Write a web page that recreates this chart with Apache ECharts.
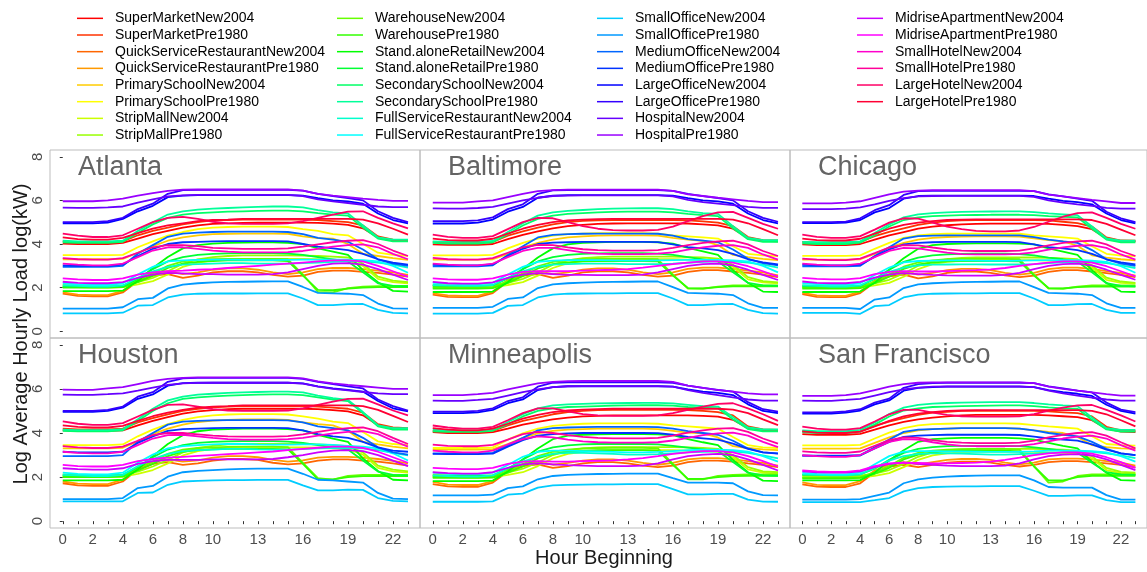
<!DOCTYPE html>
<html><head><meta charset="utf-8">
<script src="https://cdn.jsdelivr.net/npm/echarts@6/dist/echarts.min.js"></script>
<style>html,body{margin:0;padding:0;background:#fff}#c{width:1147px;height:572px}</style>
</head><body><div id="c"></div>
<script>
const hours = [0,1,2,3,4,5,6,7,8,9,10,11,12,13,14,15,16,17,18,19,20,21,22,23];
const xTickLabels = [0,2,4,6,8,10,13,16,19,22];
const yTickLabels = [0,2,4,6,8];
const cities = ['Atlanta','Baltimore','Chicago','Houston','Minneapolis','San Francisco'];
const seriesNames = ['SuperMarketNew2004','SuperMarketPre1980','QuickServiceRestaurantNew2004','QuickServiceRestaurantPre1980','PrimarySchoolNew2004','PrimarySchoolPre1980','StripMallNew2004','StripMallPre1980','WarehouseNew2004','WarehousePre1980','Stand.aloneRetailNew2004','Stand.aloneRetailPre1980','SecondarySchoolNew2004','SecondarySchoolPre1980','FullServiceRestaurantNew2004','FullServiceRestaurantPre1980','SmallOfficeNew2004','SmallOfficePre1980','MediumOfficeNew2004','MediumOfficePre1980','LargeOfficeNew2004','LargeOfficePre1980','HospitalNew2004','HospitalPre1980','MidriseApartmentNew2004','MidriseApartmentPre1980','SmallHotelNew2004','SmallHotelPre1980','LargeHotelNew2004','LargeHotelPre1980'];
const colors = ['#FF0000','#FF3300','#FF6600','#FF9900','#FFCC00','#FFFF00','#CCFF00','#99FF00','#66FF00','#33FF00','#00FF00','#00FF33','#00FF66','#00FF99','#00FFCC','#00FFFF','#00CCFF','#0099FF','#0066FF','#0033FF','#0000FF','#3300FF','#6600FF','#9900FF','#CC00FF','#FF00FF','#FF00CC','#FF0099','#FF0066','#FF0033'];

const atlanta = [
[4.02,4.0,4.0,4.0,4.05,4.25,4.45,4.6,4.75,4.85,4.92,4.95,4.97,4.98,4.98,4.98,4.98,4.97,4.93,4.88,4.72,4.3,4.17,4.15],
[4.12,4.08,4.08,4.08,4.12,4.4,4.6,4.75,4.9,5.0,5.08,5.1,5.12,5.12,5.12,5.12,5.12,5.1,5.05,5.0,4.85,4.35,4.2,4.18],
[1.72,1.62,1.6,1.6,1.78,2.3,2.55,2.62,2.45,2.55,2.7,2.75,2.75,2.7,2.58,2.5,2.55,2.72,2.78,2.78,2.72,2.68,2.6,2.5],
[1.78,1.68,1.66,1.66,1.85,2.38,2.68,2.75,2.62,2.7,2.82,2.88,2.88,2.82,2.7,2.62,2.7,2.85,2.9,2.9,2.85,2.78,2.7,2.58],
[3.3,3.3,3.3,3.3,3.32,3.6,3.9,4.15,4.3,4.4,4.45,4.47,4.48,4.48,4.48,4.47,4.35,4.27,4.25,4.0,3.55,3.45,3.35,3.27],
[3.49,3.49,3.49,3.49,3.5,3.85,4.12,4.38,4.55,4.68,4.75,4.78,4.8,4.8,4.8,4.78,4.68,4.6,4.45,4.4,4.0,3.6,3.5,3.46],
[2.05,2.02,2.0,2.0,2.02,2.15,2.3,2.6,2.95,3.15,3.25,3.3,3.32,3.32,3.32,3.32,3.32,3.3,3.28,3.25,3.0,2.4,2.25,2.2],
[2.12,2.1,2.08,2.08,2.1,2.25,2.45,2.75,3.1,3.3,3.4,3.45,3.48,3.48,3.48,3.48,3.47,3.45,3.42,3.38,3.1,2.5,2.32,2.25],
[2.02,2.02,2.02,2.02,2.04,2.35,2.65,3.0,3.2,3.28,3.3,3.32,3.32,3.32,3.32,3.3,2.6,1.8,1.78,1.98,2.05,2.07,2.08,2.08],
[2.0,2.0,2.0,2.0,2.02,2.25,2.55,2.9,3.1,3.18,3.22,3.25,3.25,3.25,3.25,3.22,2.55,1.9,1.88,1.95,2.0,2.02,2.02,2.02],
[1.84,1.84,1.84,1.84,1.86,2.3,2.9,3.4,3.8,3.95,4.02,4.05,4.06,4.07,4.07,4.05,4.0,3.8,3.65,3.5,2.8,2.25,1.85,1.82],
[2.05,2.05,2.05,2.05,2.07,2.4,2.85,3.2,3.4,3.5,3.55,3.57,3.58,3.58,3.58,3.56,3.5,3.4,3.3,3.2,2.7,2.2,2.08,2.06],
[4.08,4.05,4.05,4.05,4.1,4.5,4.9,5.2,5.35,5.42,5.45,5.48,5.5,5.52,5.53,5.53,5.5,5.42,5.35,5.3,4.75,4.25,4.12,4.12],
[4.15,4.12,4.12,4.12,4.15,4.6,5.0,5.35,5.5,5.58,5.62,5.65,5.68,5.7,5.72,5.72,5.68,5.55,5.45,5.4,4.85,4.3,4.2,4.2],
[2.1,2.08,2.05,2.05,2.1,2.45,2.75,2.95,3.05,3.08,3.1,3.12,3.12,3.1,3.1,3.1,3.12,3.15,3.18,3.2,3.2,3.15,3.05,2.92],
[2.2,2.15,2.12,2.12,2.2,2.6,2.95,3.2,3.25,3.27,3.28,3.28,3.27,3.26,3.26,3.27,3.28,3.28,3.28,3.28,3.26,3.2,3.0,2.68],
[0.82,0.82,0.82,0.82,0.85,1.17,1.2,1.55,1.68,1.72,1.73,1.73,1.73,1.74,1.74,1.74,1.5,1.2,1.2,1.24,1.25,0.98,0.84,0.82],
[1.04,1.04,1.04,1.04,1.1,1.47,1.53,1.96,2.14,2.2,2.24,2.26,2.27,2.28,2.29,2.29,2.03,1.76,1.74,1.72,1.66,1.27,1.05,1.04],
[2.95,2.95,2.95,2.95,3.0,3.55,3.95,4.33,4.48,4.52,4.55,4.57,4.57,4.57,4.57,4.55,4.45,4.28,4.2,4.1,3.75,3.3,3.1,3.0],
[3.02,3.0,3.0,3.0,3.05,3.45,3.78,4.0,4.08,4.1,4.12,4.13,4.13,4.13,4.13,4.12,4.0,3.88,3.8,3.72,3.55,3.3,3.15,3.05],
[4.95,4.95,4.95,4.98,5.15,5.5,5.75,6.15,6.22,6.24,6.24,6.24,6.24,6.24,6.24,6.24,6.22,6.1,6.0,5.95,5.85,5.4,5.1,4.95],
[5.0,5.0,5.0,5.05,5.2,5.6,5.85,6.3,6.47,6.48,6.48,6.48,6.48,6.48,6.48,6.48,6.45,6.3,6.2,6.1,6.0,5.5,5.2,5.0],
[5.67,5.66,5.66,5.68,5.72,5.9,6.05,6.18,6.23,6.25,6.25,6.25,6.25,6.25,6.25,6.25,6.2,6.05,5.95,5.88,5.8,5.72,5.69,5.69],
[5.96,5.96,5.96,6.0,6.08,6.22,6.33,6.44,6.49,6.5,6.5,6.5,6.5,6.5,6.5,6.5,6.45,6.3,6.22,6.15,6.08,6.02,5.98,5.98],
[2.27,2.22,2.2,2.2,2.25,2.45,2.6,2.68,2.65,2.62,2.62,2.6,2.6,2.6,2.62,2.7,2.85,3.0,3.1,3.12,3.05,2.85,2.6,2.35],
[2.42,2.38,2.35,2.35,2.42,2.6,2.7,2.75,2.78,2.82,2.85,2.9,2.95,3.0,3.05,3.1,3.15,3.2,3.25,3.25,3.2,3.0,2.75,2.5],
[3.1,3.05,3.02,3.02,3.1,3.4,3.7,3.85,3.85,3.78,3.7,3.65,3.62,3.62,3.62,3.63,3.68,3.78,3.88,3.95,3.98,3.85,3.55,3.3],
[3.35,3.3,3.28,3.28,3.35,3.6,3.85,3.95,3.95,3.9,3.82,3.8,3.78,3.78,3.78,3.8,3.88,3.98,4.08,4.15,4.18,4.0,3.7,3.45],
[4.48,4.38,4.32,4.32,4.4,4.7,5.0,5.2,5.24,5.15,5.02,4.95,4.92,4.92,4.92,4.95,5.05,5.2,5.35,5.48,5.5,5.2,4.95,4.72],
[4.3,4.22,4.2,4.2,4.28,4.5,4.7,4.85,4.95,5.05,5.1,5.12,5.15,5.15,5.15,5.15,5.15,5.15,5.15,5.15,5.12,4.95,4.7,4.43]
];
const baltimore = [
[3.98,3.96,3.96,3.96,4.0,4.22,4.42,4.58,4.72,4.82,4.88,4.92,4.94,4.95,4.95,4.95,4.95,4.94,4.9,4.85,4.7,4.28,4.15,4.12],
[4.1,4.06,4.06,4.06,4.1,4.38,4.58,4.75,4.9,5.0,5.06,5.08,5.1,5.1,5.1,5.1,5.1,5.08,5.04,4.98,4.82,4.32,4.18,4.16],
[1.68,1.58,1.56,1.56,1.75,2.28,2.55,2.62,2.45,2.55,2.7,2.75,2.75,2.7,2.58,2.5,2.55,2.72,2.8,2.8,2.74,2.68,2.6,2.48],
[1.74,1.64,1.62,1.62,1.82,2.35,2.66,2.74,2.62,2.7,2.82,2.88,2.88,2.82,2.7,2.62,2.7,2.86,2.92,2.92,2.86,2.78,2.7,2.56],
[3.28,3.28,3.28,3.28,3.3,3.55,3.85,4.05,4.2,4.3,4.35,4.38,4.4,4.4,4.4,4.38,4.28,4.2,4.15,3.95,3.5,3.4,3.32,3.26],
[3.48,3.48,3.48,3.48,3.5,3.8,4.05,4.25,4.38,4.45,4.48,4.5,4.5,4.5,4.5,4.48,4.4,4.35,4.3,4.25,3.9,3.55,3.48,3.45],
[2.05,2.02,2.0,2.0,2.02,2.12,2.25,2.55,2.9,3.12,3.22,3.28,3.3,3.3,3.3,3.3,3.3,3.28,3.26,3.22,2.95,2.38,2.24,2.2],
[2.12,2.1,2.08,2.08,2.1,2.22,2.4,2.7,3.05,3.25,3.35,3.4,3.42,3.42,3.42,3.42,3.42,3.4,3.38,3.33,3.05,2.48,2.3,2.24],
[2.0,2.0,2.0,2.0,2.02,2.3,2.62,2.98,3.18,3.26,3.3,3.32,3.32,3.32,3.32,3.3,2.6,1.95,1.95,2.05,2.1,2.1,2.1,2.1],
[1.96,1.96,1.96,1.96,1.98,2.22,2.52,2.88,3.08,3.16,3.2,3.22,3.22,3.22,3.22,3.2,2.55,1.98,1.96,2.02,2.06,2.06,2.06,2.06],
[1.8,1.8,1.8,1.8,1.82,2.25,2.85,3.38,3.8,3.98,4.05,4.08,4.1,4.1,4.1,4.08,4.02,3.82,3.66,3.5,2.8,2.22,1.82,1.8],
[2.08,2.08,2.08,2.08,2.1,2.42,2.85,3.2,3.4,3.5,3.55,3.57,3.58,3.58,3.58,3.56,3.5,3.4,3.3,3.2,2.7,2.22,2.1,2.08],
[4.05,4.02,4.02,4.02,4.08,4.45,4.85,5.15,5.3,5.38,5.42,5.45,5.47,5.48,5.48,5.48,5.45,5.38,5.32,5.28,4.72,4.22,4.1,4.1],
[4.12,4.1,4.1,4.1,4.14,4.55,4.95,5.3,5.45,5.52,5.56,5.6,5.62,5.63,5.64,5.64,5.6,5.5,5.42,5.38,4.82,4.28,4.18,4.18],
[2.12,2.1,2.08,2.08,2.12,2.45,2.75,2.95,3.05,3.08,3.1,3.1,3.1,3.08,3.08,3.08,3.1,3.14,3.18,3.2,3.2,3.15,3.05,2.92],
[2.22,2.18,2.15,2.15,2.22,2.6,2.95,3.18,3.24,3.26,3.26,3.26,3.25,3.24,3.24,3.25,3.26,3.27,3.27,3.27,3.25,3.2,3.0,2.7],
[0.81,0.81,0.81,0.81,0.84,1.16,1.2,1.55,1.68,1.72,1.73,1.74,1.74,1.75,1.75,1.75,1.5,1.2,1.2,1.24,1.25,0.98,0.83,0.81],
[1.07,1.07,1.07,1.07,1.12,1.48,1.55,1.98,2.15,2.2,2.23,2.25,2.26,2.27,2.28,2.28,2.02,1.76,1.74,1.72,1.66,1.28,1.07,1.07],
[2.98,2.98,2.98,2.98,3.02,3.5,3.9,4.3,4.42,4.45,4.47,4.48,4.48,4.48,4.48,4.47,4.38,4.22,4.15,4.08,3.75,3.32,3.12,3.02],
[3.05,3.02,3.02,3.02,3.06,3.45,3.78,4.0,4.06,4.08,4.1,4.1,4.1,4.1,4.1,4.09,3.98,3.86,3.8,3.72,3.55,3.3,3.16,3.06],
[4.94,4.94,4.94,4.98,5.12,5.48,5.7,6.12,6.22,6.24,6.24,6.24,6.24,6.24,6.24,6.24,6.22,6.1,6.0,5.95,5.85,5.4,5.1,4.95],
[5.05,5.05,5.05,5.08,5.22,5.6,5.82,6.3,6.46,6.47,6.47,6.47,6.47,6.47,6.47,6.47,6.44,6.3,6.2,6.1,6.0,5.5,5.2,5.02],
[5.63,5.62,5.62,5.65,5.7,5.85,6.0,6.12,6.2,6.22,6.23,6.23,6.23,6.23,6.23,6.23,6.18,6.02,5.92,5.85,5.78,5.7,5.66,5.66],
[5.9,5.9,5.9,5.95,6.0,6.15,6.3,6.42,6.47,6.49,6.49,6.49,6.49,6.49,6.49,6.49,6.44,6.28,6.2,6.12,6.05,5.98,5.92,5.92],
[2.26,2.2,2.18,2.18,2.24,2.45,2.6,2.66,2.62,2.58,2.58,2.57,2.57,2.57,2.6,2.7,2.85,3.0,3.08,3.1,3.02,2.82,2.58,2.35],
[2.42,2.38,2.36,2.36,2.42,2.6,2.72,2.76,2.75,2.76,2.78,2.8,2.82,2.85,2.92,3.0,3.08,3.15,3.2,3.2,3.15,2.98,2.75,2.5],
[3.1,3.05,3.02,3.02,3.1,3.4,3.68,3.82,3.82,3.72,3.62,3.56,3.54,3.54,3.54,3.56,3.62,3.74,3.85,3.92,3.95,3.82,3.52,3.28],
[3.36,3.3,3.28,3.28,3.35,3.6,3.85,3.96,3.95,3.85,3.76,3.72,3.7,3.7,3.7,3.72,3.82,3.95,4.05,4.12,4.15,3.98,3.68,3.45],
[4.43,4.33,4.28,4.28,4.36,4.68,5.0,5.2,5.18,5.0,4.82,4.7,4.64,4.62,4.62,4.65,4.8,5.05,5.28,5.45,5.47,5.2,4.92,4.7],
[4.25,4.18,4.16,4.16,4.24,4.48,4.7,4.88,5.0,5.08,5.12,5.14,5.15,5.15,5.15,5.15,5.15,5.15,5.15,5.15,5.12,4.95,4.68,4.4]
];
const chicago = [
[3.98,3.95,3.95,3.95,4.0,4.2,4.4,4.55,4.7,4.8,4.86,4.9,4.92,4.93,4.93,4.93,4.93,4.92,4.88,4.82,4.68,4.26,4.14,4.12],
[4.1,4.05,4.05,4.05,4.1,4.36,4.56,4.72,4.88,4.98,5.05,5.08,5.1,5.1,5.1,5.1,5.1,5.08,5.02,4.96,4.8,4.3,4.16,4.15],
[1.7,1.58,1.56,1.56,1.75,2.25,2.52,2.6,2.42,2.52,2.68,2.74,2.74,2.68,2.56,2.48,2.55,2.72,2.8,2.8,2.74,2.66,2.58,2.48],
[1.76,1.64,1.62,1.62,1.82,2.32,2.62,2.72,2.6,2.68,2.8,2.86,2.86,2.8,2.68,2.6,2.68,2.85,2.92,2.92,2.86,2.76,2.68,2.55],
[3.28,3.28,3.28,3.28,3.3,3.55,3.85,4.05,4.2,4.28,4.32,4.34,4.35,4.35,4.35,4.34,4.26,4.18,4.12,3.92,3.48,3.38,3.3,3.25],
[3.46,3.46,3.46,3.46,3.48,3.78,4.05,4.28,4.4,4.45,4.47,4.48,4.48,4.48,4.48,4.47,4.4,4.35,4.3,4.25,3.9,3.55,3.47,3.44],
[2.02,2.0,1.98,1.98,2.0,2.1,2.22,2.5,2.85,3.08,3.18,3.24,3.26,3.26,3.26,3.26,3.26,3.24,3.22,3.18,2.92,2.36,2.22,2.18],
[2.1,2.08,2.06,2.06,2.08,2.2,2.36,2.65,3.0,3.2,3.3,3.36,3.38,3.38,3.38,3.38,3.38,3.36,3.34,3.3,3.02,2.46,2.28,2.22],
[2.0,2.0,2.0,2.0,2.02,2.28,2.6,2.96,3.16,3.25,3.3,3.32,3.32,3.32,3.32,3.3,2.6,1.95,1.95,2.05,2.1,2.1,2.1,2.1],
[1.96,1.96,1.96,1.96,1.98,2.2,2.5,2.86,3.06,3.15,3.2,3.22,3.22,3.22,3.22,3.2,2.55,1.98,1.96,2.02,2.05,2.05,2.05,2.05],
[1.8,1.8,1.8,1.8,1.82,2.22,2.82,3.35,3.78,3.95,4.0,4.02,4.03,4.03,4.03,4.02,3.98,3.8,3.65,3.5,2.8,2.22,1.82,1.8],
[2.06,2.06,2.06,2.06,2.08,2.4,2.82,3.18,3.38,3.48,3.52,3.55,3.56,3.56,3.56,3.54,3.48,3.38,3.3,3.2,2.7,2.2,2.08,2.06],
[4.03,4.0,4.0,4.0,4.06,4.4,4.8,5.1,5.22,5.28,5.3,5.32,5.33,5.34,5.34,5.34,5.32,5.28,5.25,5.22,4.7,4.2,4.08,4.08],
[4.1,4.08,4.08,4.08,4.12,4.5,4.9,5.22,5.36,5.42,5.45,5.47,5.48,5.49,5.5,5.5,5.46,5.4,5.36,5.32,4.8,4.26,4.15,4.15],
[2.1,2.08,2.05,2.05,2.1,2.42,2.72,2.92,3.02,3.05,3.06,3.07,3.07,3.06,3.06,3.06,3.08,3.12,3.16,3.18,3.18,3.12,3.02,2.9],
[2.2,2.16,2.13,2.13,2.2,2.58,2.92,3.16,3.22,3.24,3.25,3.25,3.24,3.23,3.23,3.24,3.25,3.26,3.26,3.26,3.24,3.18,2.98,2.68],
[0.84,0.84,0.84,0.84,0.8,1.15,1.2,1.55,1.68,1.72,1.73,1.74,1.74,1.75,1.75,1.75,1.5,1.2,1.2,1.24,1.25,0.98,0.84,0.84],
[1.07,1.07,1.07,1.07,1.02,1.45,1.55,1.98,2.15,2.2,2.23,2.25,2.26,2.27,2.28,2.28,2.02,1.76,1.74,1.72,1.66,1.28,1.07,1.07],
[2.98,2.98,2.98,2.98,3.0,3.45,3.85,4.25,4.36,4.38,4.4,4.4,4.4,4.4,4.4,4.4,4.32,4.2,4.12,4.05,3.72,3.3,3.1,3.0],
[3.05,3.02,3.02,3.02,3.04,3.42,3.75,3.98,4.05,4.08,4.1,4.1,4.1,4.1,4.1,4.09,3.98,3.86,3.8,3.72,3.55,3.3,3.16,3.06],
[4.96,4.96,4.96,4.98,5.1,5.45,5.65,6.08,6.2,6.22,6.22,6.22,6.22,6.22,6.22,6.22,6.2,6.08,5.98,5.92,5.82,5.4,5.1,4.95],
[5.0,5.0,5.0,5.03,5.18,5.55,5.78,6.25,6.42,6.44,6.44,6.44,6.44,6.44,6.44,6.44,6.42,6.28,6.18,6.08,5.98,5.48,5.18,5.0],
[5.6,5.6,5.6,5.62,5.68,5.82,5.98,6.1,6.18,6.2,6.21,6.21,6.21,6.21,6.21,6.21,6.16,6.0,5.9,5.82,5.75,5.66,5.62,5.62],
[5.86,5.86,5.86,5.9,5.96,6.12,6.28,6.4,6.45,6.47,6.47,6.47,6.47,6.47,6.47,6.47,6.42,6.26,6.18,6.1,6.02,5.95,5.88,5.88],
[2.28,2.22,2.2,2.2,2.26,2.46,2.6,2.66,2.62,2.58,2.56,2.55,2.55,2.55,2.58,2.68,2.85,3.0,3.08,3.1,3.02,2.82,2.58,2.36],
[2.45,2.4,2.38,2.38,2.44,2.62,2.72,2.76,2.74,2.74,2.76,2.78,2.8,2.84,2.9,3.0,3.08,3.15,3.2,3.2,3.15,2.98,2.75,2.52],
[3.1,3.05,3.02,3.02,3.1,3.4,3.68,3.82,3.8,3.7,3.6,3.54,3.52,3.52,3.52,3.55,3.62,3.74,3.85,3.92,3.95,3.82,3.52,3.28],
[3.33,3.28,3.26,3.26,3.33,3.58,3.84,3.95,3.94,3.84,3.75,3.7,3.68,3.68,3.68,3.7,3.8,3.94,4.05,4.12,4.15,3.98,3.68,3.45],
[4.43,4.33,4.28,4.28,4.36,4.66,4.98,5.18,5.16,4.98,4.8,4.68,4.6,4.58,4.58,4.62,4.78,5.02,5.25,5.42,5.45,5.2,4.92,4.7],
[4.25,4.18,4.16,4.16,4.24,4.48,4.7,4.88,4.98,5.05,5.1,5.12,5.13,5.13,5.13,5.13,5.13,5.13,5.13,5.13,5.1,4.92,4.66,4.4]
];
const houston = [
[4.12,4.1,4.1,4.1,4.12,4.35,4.55,4.72,4.88,4.98,5.04,5.08,5.1,5.1,5.1,5.1,5.1,5.08,5.04,4.98,4.8,4.35,4.2,4.18],
[4.2,4.16,4.16,4.16,4.2,4.48,4.68,4.85,5.0,5.1,5.16,5.2,5.22,5.22,5.22,5.22,5.22,5.2,5.15,5.1,4.92,4.4,4.25,4.22],
[1.72,1.62,1.6,1.6,1.8,2.35,2.6,2.68,2.55,2.62,2.75,2.82,2.82,2.78,2.65,2.58,2.62,2.75,2.8,2.8,2.75,2.7,2.62,2.52],
[1.8,1.7,1.68,1.68,1.88,2.42,2.7,2.8,2.7,2.76,2.88,2.95,2.95,2.9,2.78,2.7,2.76,2.88,2.92,2.92,2.88,2.82,2.74,2.62],
[3.3,3.3,3.3,3.3,3.33,3.62,3.95,4.2,4.38,4.5,4.56,4.6,4.62,4.62,4.62,4.6,4.48,4.4,4.35,4.1,3.6,3.48,3.38,3.3],
[3.45,3.45,3.45,3.45,3.48,3.85,4.15,4.4,4.6,4.72,4.8,4.84,4.86,4.86,4.86,4.84,4.75,4.65,4.52,4.45,4.05,3.62,3.5,3.45],
[2.05,2.02,2.0,2.0,2.02,2.15,2.32,2.62,2.98,3.18,3.28,3.33,3.35,3.35,3.35,3.35,3.35,3.33,3.3,3.27,3.02,2.42,2.26,2.2],
[2.12,2.1,2.08,2.08,2.1,2.25,2.48,2.78,3.12,3.32,3.42,3.48,3.5,3.5,3.5,3.5,3.5,3.48,3.45,3.4,3.12,2.52,2.34,2.26],
[2.04,2.04,2.04,2.04,2.06,2.4,2.7,3.05,3.25,3.32,3.35,3.37,3.38,3.38,3.38,3.36,2.65,1.95,1.88,2.05,2.1,2.1,2.1,2.1],
[2.0,2.0,2.0,2.0,2.02,2.3,2.6,2.95,3.15,3.22,3.26,3.28,3.28,3.28,3.28,3.26,2.6,1.9,1.9,2.0,2.04,2.05,2.05,2.05],
[1.85,1.85,1.85,1.85,1.88,2.35,2.95,3.5,3.9,4.08,4.15,4.18,4.2,4.2,4.2,4.18,4.12,3.92,3.75,3.6,2.85,2.28,1.88,1.85],
[2.08,2.08,2.08,2.08,2.1,2.45,2.9,3.25,3.45,3.55,3.6,3.62,3.63,3.63,3.63,3.61,3.55,3.45,3.35,3.25,2.75,2.25,2.1,2.08],
[4.1,4.08,4.08,4.08,4.12,4.55,5.0,5.35,5.55,5.62,5.66,5.7,5.72,5.74,5.75,5.75,5.72,5.62,5.52,5.45,4.9,4.3,4.15,4.15],
[4.15,4.13,4.13,4.13,4.17,4.62,5.1,5.48,5.65,5.74,5.78,5.82,5.84,5.86,5.88,5.88,5.84,5.7,5.58,5.5,4.95,4.35,4.22,4.22],
[2.1,2.08,2.05,2.05,2.1,2.5,2.82,3.05,3.18,3.22,3.25,3.28,3.28,3.26,3.25,3.25,3.27,3.3,3.32,3.32,3.3,3.22,3.1,2.98],
[2.2,2.15,2.12,2.12,2.2,2.65,3.02,3.3,3.4,3.45,3.48,3.5,3.5,3.48,3.47,3.47,3.48,3.48,3.46,3.42,3.38,3.3,3.08,2.75],
[0.9,0.9,0.9,0.9,0.9,1.28,1.3,1.65,1.8,1.83,1.85,1.86,1.86,1.87,1.87,1.87,1.62,1.4,1.4,1.43,1.42,1.05,0.92,0.9],
[1.0,1.0,1.0,1.0,1.05,1.5,1.6,2.02,2.22,2.28,2.32,2.35,2.37,2.38,2.38,2.38,2.15,1.88,1.85,1.8,1.75,1.28,1.02,1.0],
[2.95,2.95,2.95,2.95,3.0,3.6,4.0,4.38,4.52,4.55,4.57,4.58,4.58,4.58,4.58,4.57,4.48,4.3,4.22,4.12,3.78,3.35,3.12,3.02],
[3.15,3.12,3.12,3.12,3.15,3.55,3.85,4.1,4.18,4.2,4.22,4.23,4.23,4.23,4.23,4.22,4.12,3.95,3.85,3.78,3.6,3.35,3.2,3.15],
[4.96,4.96,4.96,5.0,5.15,5.55,5.75,6.15,6.26,6.28,6.28,6.28,6.28,6.28,6.28,6.28,6.25,6.12,6.02,5.96,5.88,5.45,5.12,4.98],
[5.0,5.0,5.0,5.05,5.2,5.65,5.85,6.32,6.48,6.5,6.5,6.5,6.5,6.5,6.5,6.5,6.46,6.32,6.22,6.12,6.02,5.52,5.22,5.02],
[5.74,5.73,5.73,5.76,5.8,5.92,6.06,6.18,6.25,6.27,6.28,6.28,6.28,6.28,6.28,6.28,6.24,6.1,6.0,5.93,5.86,5.8,5.76,5.76],
[5.97,5.96,5.96,6.02,6.08,6.22,6.36,6.46,6.5,6.52,6.52,6.52,6.52,6.52,6.52,6.52,6.48,6.34,6.25,6.18,6.12,6.06,6.0,6.0],
[2.4,2.36,2.34,2.34,2.4,2.6,2.72,2.78,2.78,2.78,2.8,2.8,2.8,2.8,2.82,2.9,3.0,3.12,3.2,3.22,3.18,3.0,2.75,2.5],
[2.55,2.5,2.48,2.48,2.55,2.72,2.82,2.88,2.92,2.96,3.0,3.04,3.08,3.12,3.16,3.22,3.28,3.33,3.38,3.38,3.32,3.15,2.9,2.65],
[3.15,3.1,3.08,3.08,3.15,3.45,3.75,3.9,3.92,3.85,3.78,3.72,3.7,3.7,3.7,3.72,3.78,3.88,3.98,4.05,4.08,3.95,3.65,3.38],
[3.4,3.35,3.32,3.32,3.38,3.65,3.9,4.0,4.0,3.94,3.88,3.85,3.84,3.84,3.84,3.86,3.94,4.05,4.15,4.22,4.25,4.08,3.78,3.5],
[4.53,4.42,4.37,4.37,4.45,4.75,5.05,5.28,5.3,5.2,5.08,5.02,5.0,5.0,5.0,5.02,5.12,5.28,5.42,5.55,5.56,5.3,5.02,4.8],
[4.35,4.28,4.25,4.25,4.32,4.55,4.76,4.92,5.05,5.15,5.2,5.22,5.25,5.25,5.25,5.25,5.25,5.25,5.25,5.25,5.22,5.05,4.78,4.5]
];
const minneapolis = [
[4.04,4.0,4.0,4.0,4.04,4.2,4.38,4.5,4.62,4.7,4.75,4.78,4.8,4.8,4.8,4.8,4.8,4.8,4.78,4.74,4.6,4.22,4.12,4.1],
[4.1,4.06,4.06,4.06,4.1,4.35,4.55,4.7,4.85,4.95,5.0,5.04,5.05,5.05,5.05,5.05,5.05,5.04,5.0,4.95,4.8,4.3,4.16,4.14],
[1.68,1.58,1.56,1.56,1.75,2.25,2.5,2.58,2.42,2.5,2.62,2.68,2.68,2.62,2.52,2.45,2.52,2.68,2.75,2.75,2.7,2.62,2.55,2.45],
[1.78,1.66,1.64,1.64,1.82,2.32,2.6,2.7,2.56,2.64,2.75,2.8,2.8,2.75,2.64,2.56,2.64,2.8,2.86,2.86,2.8,2.72,2.64,2.52],
[3.25,3.25,3.25,3.25,3.27,3.5,3.78,3.98,4.1,4.15,4.18,4.2,4.2,4.2,4.2,4.18,4.1,4.02,3.98,3.8,3.4,3.32,3.26,3.22],
[3.32,3.32,3.32,3.32,3.35,3.7,3.98,4.2,4.32,4.38,4.42,4.44,4.44,4.44,4.44,4.42,4.35,4.3,4.25,4.2,3.82,3.45,3.35,3.32],
[2.02,2.0,1.98,1.98,2.0,2.1,2.22,2.5,2.85,3.05,3.15,3.2,3.22,3.22,3.22,3.22,3.22,3.2,3.18,3.15,2.9,2.35,2.2,2.16],
[2.1,2.08,2.06,2.06,2.08,2.2,2.38,2.66,3.0,3.2,3.3,3.35,3.36,3.36,3.36,3.36,3.36,3.35,3.32,3.28,3.0,2.45,2.26,2.22],
[2.0,2.0,2.0,2.0,2.02,2.28,2.58,2.95,3.15,3.25,3.3,3.32,3.33,3.33,3.33,3.3,2.6,1.9,1.9,2.05,2.1,2.12,2.12,2.12],
[1.96,1.96,1.96,1.96,1.98,2.2,2.48,2.85,3.05,3.15,3.2,3.22,3.22,3.22,3.22,3.2,2.55,1.92,1.92,2.0,2.05,2.06,2.06,2.06],
[1.82,1.82,1.82,1.82,1.84,2.25,2.8,3.3,3.72,3.88,3.92,3.94,3.95,3.95,3.95,3.94,3.9,3.72,3.58,3.45,2.78,2.22,1.84,1.82],
[2.06,2.06,2.06,2.06,2.08,2.38,2.8,3.15,3.35,3.44,3.48,3.5,3.5,3.5,3.5,3.48,3.42,3.34,3.26,3.18,2.68,2.2,2.08,2.06],
[4.08,4.05,4.05,4.05,4.1,4.4,4.75,5.0,5.12,5.18,5.2,5.22,5.24,5.25,5.26,5.26,5.24,5.18,5.15,5.12,4.62,4.18,4.08,4.08],
[4.15,4.12,4.12,4.12,4.16,4.5,4.85,5.12,5.25,5.3,5.32,5.34,5.35,5.36,5.37,5.37,5.34,5.28,5.22,5.2,4.72,4.25,4.16,4.16],
[2.08,2.05,2.02,2.02,2.08,2.4,2.7,2.92,3.05,3.1,3.1,3.08,3.05,3.02,3.02,3.04,3.08,3.12,3.15,3.17,3.17,3.1,2.98,2.85],
[2.2,2.15,2.12,2.12,2.2,2.55,2.92,3.15,3.2,3.2,3.18,3.16,3.14,3.12,3.12,3.14,3.18,3.22,3.24,3.24,3.22,3.15,2.95,2.7],
[0.88,0.88,0.88,0.88,0.9,1.2,1.25,1.52,1.62,1.65,1.66,1.67,1.67,1.68,1.68,1.68,1.45,1.22,1.22,1.24,1.24,0.98,0.89,0.88],
[1.17,1.17,1.17,1.17,1.2,1.5,1.58,1.9,2.05,2.1,2.12,2.14,2.15,2.16,2.16,2.16,1.95,1.75,1.75,1.75,1.72,1.35,1.18,1.17],
[3.08,3.08,3.08,3.08,3.1,3.45,3.78,4.12,4.22,4.25,4.27,4.28,4.28,4.28,4.28,4.27,4.2,4.08,4.0,3.92,3.65,3.3,3.12,3.08],
[3.05,3.04,3.04,3.04,3.06,3.38,3.68,3.88,3.95,3.98,4.0,4.0,4.0,4.0,4.0,3.99,3.92,3.82,3.76,3.7,3.52,3.28,3.12,3.06],
[4.9,4.9,4.9,4.94,5.05,5.35,5.52,5.95,6.08,6.12,6.12,6.12,6.12,6.12,6.12,6.12,6.1,5.98,5.88,5.82,5.72,5.3,5.0,4.9],
[4.97,4.97,4.97,5.0,5.12,5.45,5.62,6.1,6.28,6.3,6.3,6.3,6.3,6.3,6.3,6.3,6.28,6.15,6.05,5.96,5.88,5.4,5.08,4.97],
[5.47,5.46,5.46,5.5,5.55,5.7,5.85,5.98,6.08,6.12,6.13,6.13,6.13,6.13,6.13,6.13,6.1,5.95,5.82,5.72,5.62,5.52,5.47,5.47],
[5.72,5.72,5.72,5.76,5.82,5.98,6.12,6.25,6.32,6.35,6.36,6.36,6.36,6.36,6.36,6.36,6.32,6.15,6.05,5.95,5.88,5.8,5.75,5.75],
[2.22,2.18,2.16,2.16,2.22,2.42,2.58,2.62,2.58,2.54,2.52,2.5,2.5,2.5,2.52,2.62,2.8,2.95,3.02,3.05,3.0,2.8,2.55,2.3],
[2.42,2.38,2.36,2.36,2.42,2.6,2.7,2.72,2.7,2.7,2.72,2.74,2.76,2.8,2.86,2.95,3.05,3.12,3.18,3.18,3.12,2.95,2.72,2.48],
[3.2,3.15,3.12,3.12,3.2,3.48,3.72,3.85,3.8,3.7,3.62,3.58,3.56,3.56,3.56,3.58,3.66,3.78,3.9,3.98,4.02,3.88,3.6,3.36],
[3.47,3.42,3.4,3.4,3.46,3.7,3.95,4.05,4.0,3.9,3.82,3.78,3.76,3.76,3.76,3.78,3.88,4.02,4.12,4.2,4.22,4.05,3.75,3.52],
[4.34,4.25,4.2,4.2,4.28,4.58,4.9,5.12,5.12,4.98,4.86,4.8,4.78,4.78,4.78,4.8,4.9,5.05,5.2,5.32,5.35,5.12,4.85,4.55],
[4.22,4.15,4.12,4.12,4.2,4.42,4.65,4.82,4.95,5.02,5.06,5.08,5.1,5.1,5.1,5.1,5.1,5.1,5.1,5.1,5.06,4.9,4.62,4.36]
];
const sanFrancisco = [
[3.95,3.92,3.92,3.92,3.96,4.15,4.35,4.5,4.62,4.7,4.75,4.8,4.82,4.82,4.82,4.82,4.82,4.8,4.76,4.72,4.58,4.2,4.06,4.04],
[4.07,4.03,4.03,4.03,4.07,4.32,4.52,4.68,4.82,4.92,4.96,5.0,5.0,5.0,5.0,5.0,5.0,4.98,4.94,4.9,4.75,4.28,4.12,4.1],
[1.67,1.57,1.55,1.55,1.72,2.22,2.48,2.56,2.45,2.55,2.66,2.7,2.7,2.66,2.55,2.48,2.55,2.68,2.72,2.72,2.68,2.62,2.55,2.44],
[1.76,1.65,1.63,1.63,1.82,2.3,2.58,2.68,2.58,2.68,2.78,2.82,2.82,2.78,2.66,2.58,2.66,2.8,2.84,2.84,2.8,2.72,2.65,2.52],
[3.29,3.29,3.29,3.29,3.3,3.55,3.8,4.0,4.12,4.18,4.2,4.22,4.22,4.22,4.22,4.2,4.12,4.05,4.0,3.82,3.45,3.36,3.3,3.28],
[3.44,3.44,3.44,3.44,3.46,3.75,4.02,4.22,4.35,4.4,4.42,4.44,4.44,4.44,4.44,4.42,4.36,4.3,4.25,4.2,3.85,3.5,3.45,3.43],
[2.0,1.98,1.96,1.96,1.98,2.06,2.18,2.45,2.78,2.98,3.08,3.12,3.14,3.14,3.14,3.14,3.14,3.12,3.1,3.06,2.85,2.32,2.18,2.14],
[2.08,2.06,2.04,2.04,2.06,2.16,2.32,2.6,2.92,3.12,3.22,3.26,3.28,3.28,3.28,3.28,3.28,3.26,3.24,3.2,2.95,2.42,2.24,2.2],
[1.98,1.98,1.98,1.98,2.0,2.22,2.5,2.88,3.1,3.2,3.25,3.27,3.28,3.28,3.28,3.25,2.5,1.75,1.8,2.05,2.12,2.12,2.12,2.12],
[1.94,1.94,1.94,1.94,1.96,2.15,2.42,2.8,3.02,3.12,3.17,3.2,3.2,3.2,3.2,3.17,2.48,1.85,1.85,2.0,2.06,2.06,2.06,2.06],
[1.85,1.85,1.85,1.85,1.86,2.2,2.75,3.22,3.6,3.72,3.76,3.78,3.78,3.78,3.78,3.76,3.7,3.55,3.42,3.3,2.7,2.2,1.86,1.84],
[2.1,2.1,2.1,2.1,2.12,2.38,2.78,3.1,3.28,3.36,3.4,3.42,3.42,3.42,3.42,3.4,3.35,3.28,3.2,3.12,2.65,2.22,2.12,2.1],
[4.04,4.0,4.0,4.0,4.06,4.38,4.75,5.02,5.12,5.18,5.2,5.22,5.23,5.24,5.25,5.25,5.22,5.16,5.12,5.1,4.6,4.16,4.06,4.06],
[4.12,4.08,4.08,4.08,4.14,4.48,4.86,5.15,5.28,5.33,5.36,5.38,5.39,5.4,5.4,5.4,5.36,5.3,5.25,5.22,4.7,4.22,4.14,4.14],
[2.12,2.1,2.08,2.08,2.12,2.42,2.75,2.95,3.05,3.08,3.08,3.06,3.04,3.02,3.02,3.04,3.06,3.1,3.12,3.14,3.14,3.08,2.98,2.86],
[2.19,2.15,2.12,2.12,2.2,2.58,2.95,3.15,3.18,3.18,3.17,3.16,3.15,3.14,3.14,3.15,3.17,3.2,3.2,3.2,3.18,3.12,2.95,2.7],
[0.86,0.86,0.86,0.86,0.86,0.95,1.05,1.35,1.5,1.55,1.57,1.58,1.58,1.59,1.59,1.59,1.38,1.15,1.15,1.17,1.17,0.95,0.86,0.86],
[0.98,0.98,0.98,0.98,1.0,1.15,1.3,1.72,1.9,1.98,2.02,2.05,2.07,2.08,2.08,2.08,1.85,1.55,1.52,1.52,1.52,1.18,0.98,0.98],
[2.97,2.97,2.97,2.97,3.0,3.35,3.7,4.05,4.15,4.18,4.2,4.22,4.22,4.22,4.22,4.2,4.12,4.0,3.92,3.85,3.6,3.28,3.08,3.0],
[2.97,2.96,2.96,2.96,2.98,3.3,3.6,3.82,3.88,3.9,3.92,3.92,3.92,3.92,3.92,3.91,3.84,3.75,3.7,3.65,3.48,3.25,3.08,3.0],
[4.88,4.88,4.88,4.92,5.02,5.3,5.48,5.92,6.05,6.08,6.1,6.1,6.1,6.1,6.1,6.1,6.08,5.95,5.85,5.78,5.68,5.28,5.0,4.88],
[4.94,4.94,4.94,4.98,5.08,5.38,5.56,6.05,6.22,6.26,6.28,6.28,6.28,6.28,6.28,6.28,6.26,6.12,6.02,5.92,5.84,5.38,5.06,4.95],
[5.47,5.46,5.46,5.5,5.55,5.7,5.85,5.98,6.06,6.1,6.11,6.11,6.11,6.11,6.11,6.11,6.08,5.92,5.8,5.7,5.6,5.52,5.47,5.47],
[5.68,5.68,5.68,5.72,5.8,5.95,6.1,6.22,6.28,6.3,6.3,6.3,6.3,6.3,6.3,6.3,6.26,6.1,6.0,5.92,5.84,5.76,5.7,5.7],
[2.26,2.22,2.2,2.2,2.26,2.45,2.6,2.66,2.6,2.55,2.52,2.5,2.5,2.5,2.52,2.62,2.8,2.95,3.02,3.04,2.98,2.8,2.55,2.32],
[2.3,2.26,2.24,2.24,2.3,2.5,2.62,2.66,2.64,2.62,2.62,2.64,2.66,2.7,2.78,2.88,3.0,3.08,3.12,3.12,3.06,2.9,2.68,2.42],
[2.99,2.95,2.92,2.92,3.0,3.3,3.6,3.72,3.7,3.58,3.48,3.42,3.4,3.4,3.4,3.42,3.5,3.62,3.75,3.84,3.88,3.75,3.45,3.2],
[3.17,3.12,3.1,3.1,3.16,3.42,3.68,3.8,3.78,3.68,3.6,3.56,3.54,3.54,3.54,3.56,3.65,3.8,3.92,4.0,4.04,3.88,3.58,3.3],
[4.29,4.2,4.15,4.15,4.22,4.52,4.85,5.05,5.05,4.92,4.82,4.76,4.74,4.74,4.74,4.76,4.86,5.02,5.15,5.25,5.27,5.05,4.8,4.52],
[4.07,4.02,4.0,4.0,4.06,4.3,4.55,4.75,4.88,4.95,5.0,5.02,5.04,5.04,5.04,5.04,5.04,5.04,5.04,5.04,5.0,4.85,4.58,4.3]
];
const cityData = [atlanta, baltimore, chicago, houston, minneapolis, sanFrancisco];

const FONT = '"Liberation Sans", Arial, sans-serif';
const panelLeft = [50, 420, 790];
const panelTop = [150, 338];
const panelHeight = [188, 190];
const panelWidth = 370;

const grids = [], xAxes = [], yAxes = [], series = [], graphics = [];
for (let p = 0; p < 6; p++) {
  const col = p % 3, row = Math.floor(p / 3);
  grids.push({left: panelLeft[col], top: panelTop[row], width: panelWidth, height: panelHeight[row],
    show: true, borderColor: '#BDBDBD', borderWidth: 1, backgroundColor: 'transparent', containLabel: false});
  xAxes.push({type: 'value', gridIndex: p, min: -0.85, max: 23.8,
    axisLine: {show: false}, splitLine: {show: false},
    axisTick: {show: row === 1, customValues: hours, length: 3, lineStyle: {color: '#333333', width: 1}},
    axisLabel: {show: row === 1, customValues: xTickLabels, margin: 4, fontSize: 15, color: '#4D4D4D', fontFamily: FONT}
  });
  yAxes.push({type: 'value', gridIndex: p, min: -0.31, max: 8.31,
    axisLine: {show: false}, splitLine: {show: false},
    axisTick: {show: col === 0, customValues: yTickLabels, length: 3, lineStyle: {color: '#333333', width: 1}},
    axisLabel: {show: col === 0, customValues: yTickLabels, rotate: 90, margin: 5, fontSize: 15, color: '#4D4D4D', fontFamily: FONT}
  });
  const data = cityData[p];
  for (let s = 0; s < seriesNames.length; s++) {
    series.push({type: 'line', name: seriesNames[s], xAxisIndex: p, yAxisIndex: p,
      data: hours.map((h, k) => [h, data[s][k]]),
      color: colors[s], symbol: 'none', showSymbol: false, silent: true,
      lineStyle: {width: 1.8, color: colors[s]}, z: 2 + s * 0.01});
  }
  graphics.push({type: 'text', x: panelLeft[col] + 28, y: panelTop[row] + 18,
    style: {text: cities[p], fontSize: 27, fontFamily: FONT, fill: '#646464',
      align: 'left', verticalAlign: 'middle', textAlign: 'left', textVerticalAlign: 'middle'}});
}
graphics.push({type: 'text', x: 21, y: 334, rotation: Math.PI / 2,
  style: {text: 'Log Average Hourly Load log(kW)', fontSize: 20, fontFamily: FONT, fill: '#1A1A1A',
    align: 'center', verticalAlign: 'middle', textAlign: 'center', textVerticalAlign: 'middle'}});
graphics.push({type: 'text', x: 604, y: 558,
  style: {text: 'Hour Beginning', fontSize: 20, fontFamily: FONT, fill: '#1A1A1A',
    align: 'center', verticalAlign: 'middle', textAlign: 'center', textVerticalAlign: 'middle'}});

const legendLefts = [77, 337, 597, 857];
const legends = legendLefts.map((lx, c) => ({
  show: true, orient: 'vertical', left: lx, top: 10, itemGap: 0, itemWidth: 26, itemHeight: 1.5,
  icon: 'rect', selectedMode: false, padding: 0,
  data: seriesNames.slice(c * 8, c * 8 + 8),
  textStyle: {fontSize: 14, fontFamily: FONT, color: '#000000', lineHeight: 16.67, padding: [0, 0, 0, 7]}
}));

const chart = echarts.init(document.getElementById('c'), null, {renderer: 'canvas'});
chart.setOption({
  animation: false,
  textStyle: {fontFamily: FONT},
  grid: grids, xAxis: xAxes, yAxis: yAxes, series: series,
  legend: legends, graphic: graphics
});
</script></body></html>
